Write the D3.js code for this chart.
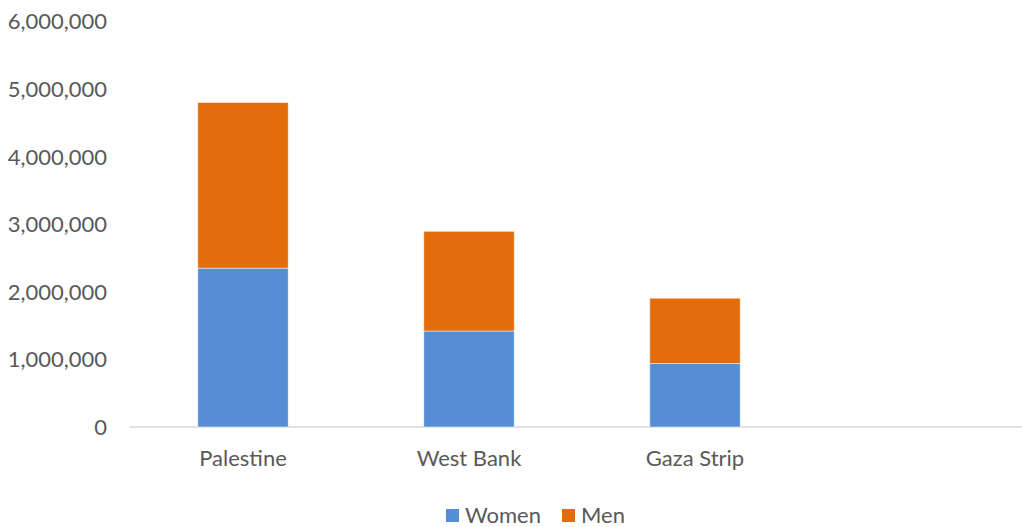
<!DOCTYPE html>
<html>
<head>
<meta charset="utf-8">
<script src="https://cdn.jsdelivr.net/npm/d3@7"></script>
<style>
html,body{margin:0;padding:0;background:#fff;}
svg{display:block;font-family:Lato,"Open Sans",sans-serif;}
</style>
</head>
<body>
<svg id="chart" width="1022" height="527"></svg>
<script>
const categories = ["Palestine", "West Bank", "Gaza Strip", ""];
const seriesNames = ["Women", "Men"];
const women = [2350000, 1420000, 940000, 0];
const men = [2450000, 1475000, 965000, 0];
const yTicks = [0, 1000000, 2000000, 3000000, 4000000, 5000000, 6000000];
const colors = ["#558ED5", "#E46C0A"];

const svg = d3.select("#chart");
const x = d3.scaleBand().domain(categories).range([130, 1034]).paddingInner(0.6).paddingOuter(0.3);
const y = d3.scaleLinear().domain([0, 6000000]).range([427, 21.4]);

const rows = categories.map((c, i) => ({cat: c, Women: women[i], Men: men[i]}));
const stacked = d3.stack().keys(seriesNames)(rows);

// axis line
svg.append("line").attr("x1", 130).attr("x2", 1022).attr("y1", y(0)).attr("y2", y(0))
  .attr("stroke", "#d9d9d9").attr("stroke-width", 1.3);

// bars
svg.append("g").selectAll("g").data(stacked).join("g")
  .attr("fill", (d, i) => colors[i])
  .selectAll("rect").data(d => d.filter(p => p.data.cat !== "")).join("rect")
  .attr("x", d => x(d.data.cat))
  .attr("width", x.bandwidth())
  .attr("y", d => y(d[1]))
  .attr("height", d => y(d[0]) - y(d[1]))
  .attr("stroke", "rgba(255,255,255,0.6)").attr("stroke-width", 0.8);

// y tick labels
const fmt = d3.format(",");
svg.append("g").selectAll("text").data(yTicks).join("text")
  .attr("x", 107).attr("y", d => y(d)).attr("dy", "0.36em")
  .attr("text-anchor", "end").attr("font-size", 22).attr("fill", "#595959")
  .text(d => fmt(d));

// x labels
svg.append("g").selectAll("text").data(categories.filter(c => c !== "")).join("text")
  .attr("x", d => x(d) + x.bandwidth() / 2).attr("y", 466)
  .attr("text-anchor", "middle").attr("font-size", 22).attr("fill", "#595959")
  .text(d => d);

// legend
const legendItems = [{name: "Women", x: 446}, {name: "Men", x: 562}];
const lg = svg.append("g").selectAll("g").data(legendItems).join("g");
lg.append("rect").attr("x", d => d.x).attr("y", 509).attr("width", 13).attr("height", 13)
  .attr("fill", (d, i) => colors[i]);
lg.append("text").attr("x", d => d.x + 19).attr("y", 523)
  .attr("font-size", 22).attr("fill", "#595959").text(d => d.name);
</script>
</body>
</html>
